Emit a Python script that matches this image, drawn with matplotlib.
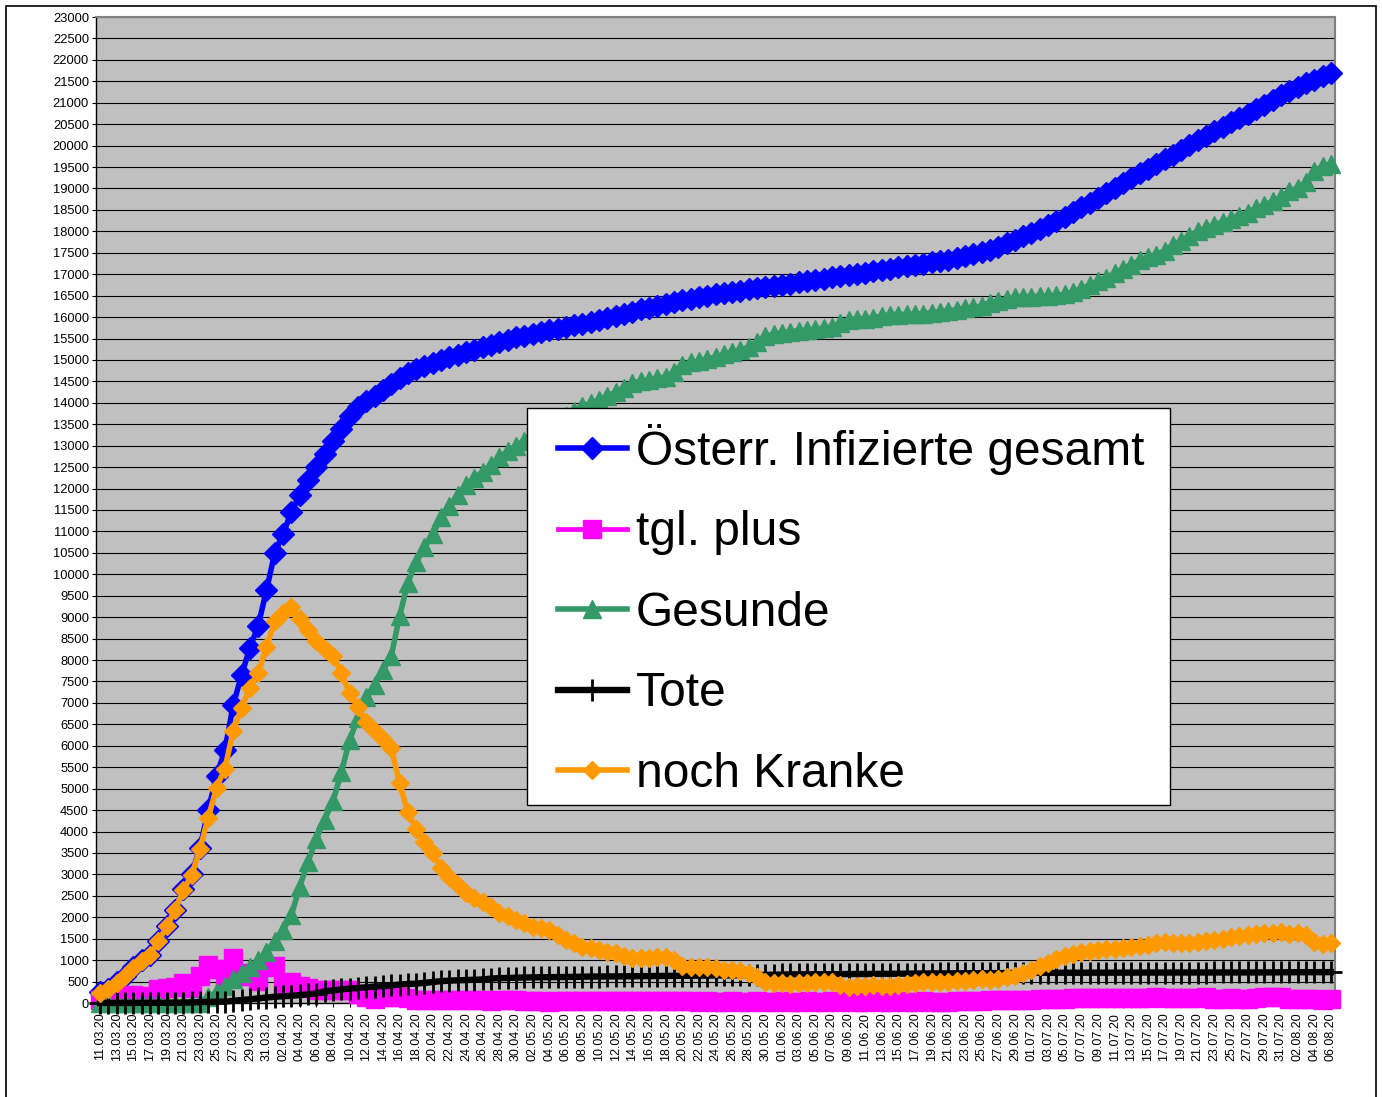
import numpy as np
import pandas as pd
import matplotlib
matplotlib.use("Agg")
import matplotlib.pyplot as plt
from matplotlib.patches import Rectangle

plt.rcParams['font.family'] = ['Liberation Sans', 'DejaVu Sans']

# Kategorien: Tage 11.03.20 - 06.08.20
tage = [d.strftime("%d.%m.%y") for d in pd.date_range("2020-03-11", "2020-08-06", freq="D")]

gesamt = [246, 330, 480, 640, 830, 1000, 1130, 1450, 1800, 2180,
          2650, 3000, 3620, 4500, 5300, 5900, 6950, 7650, 8280, 8800,
          9630, 10500, 10950, 11450, 11850, 12200, 12500, 12800, 13100, 13400,
          13700, 13900, 14050, 14150, 14300, 14450, 14580, 14700, 14780, 14850,
          14920, 14990, 15060, 15120, 15180, 15240, 15300, 15350, 15410, 15470,
          15530, 15570, 15610, 15650, 15690, 15730, 15770, 15810, 15850, 15890,
          15930, 15980, 16030, 16080, 16130, 16180, 16220, 16270, 16310, 16350,
          16390, 16430, 16460, 16500, 16530, 16560, 16590, 16620, 16650, 16680,
          16700, 16730, 16760, 16780, 16810, 16840, 16870, 16900, 16930, 16960,
          16990, 17010, 17040, 17070, 17100, 17130, 17160, 17190, 17220, 17250,
          17280, 17310, 17340, 17380, 17420, 17460, 17510, 17570, 17640, 17720,
          17800, 17880, 17960, 18050, 18140, 18240, 18340, 18450, 18560, 18670,
          18780, 18890, 19000, 19120, 19240, 19350, 19460, 19570, 19680, 19790,
          19900, 20010, 20130, 20230, 20330, 20430, 20540, 20640, 20740, 20850,
          20950, 21060, 21170, 21270, 21360, 21450, 21540, 21620, 21700]

tgl_plus = [64, 84, 150, 160, 190, 170, 130, 320, 350, 380,
            470, 350, 620, 880, 800, 600, 1050, 700, 630, 520,
            830, 870, 450, 500, 400, 350, 300, 300, 300, 300,
            300, 200, 150, 100, 150, 150, 130, 120, 80, 70,
            70, 70, 70, 60, 60, 60, 60, 50, 60, 60,
            60, 40, 40, 40, 30, 45, 40, 35, 45, 40,
            40, 55, 50, 45, 55, 50, 35, 55, 40, 45,
            40, 40, 30, 45, 30, 25, 35, 30, 30, 35,
            20, 30, 35, 20, 30, 35, 25, 30, 35, 25,
            35, 20, 30, 35, 25, 30, 35, 30, 25, 35,
            30, 30, 25, 40, 40, 45, 50, 60, 70, 80,
            80, 80, 80, 90, 90, 100, 100, 110, 110, 110,
            110, 110, 110, 120, 120, 110, 110, 140, 110, 110,
            110, 110, 120, 150, 100, 100, 110, 100, 100, 110,
            150, 140, 150, 100, 90, 90, 90, 80, 100]

gesunde = [4, 6, 6, 6, 6, 6, 7, 9, 9, 9,
           9, 9, 9, 150, 250, 400, 550, 700, 850, 1000,
           1200, 1450, 1700, 2050, 2714, 3296, 3830, 4277, 4705, 5381,
           6133, 6650, 7132, 7416, 7757, 8090, 9019, 9807, 10278, 10630,
           10929, 11330, 11598, 11840, 12074, 12248, 12391, 12551, 12730, 12866,
           13001, 13114, 13232, 13312, 13390, 13544, 13692, 13811, 13926, 13995,
           14072, 14160, 14247, 14356, 14454, 14512, 14532, 14571, 14608, 14717,
           14885, 14951, 14970, 15029, 15067, 15137, 15185, 15233, 15302, 15429,
           15555, 15600, 15635, 15662, 15682, 15701, 15720, 15739, 15768, 15868,
           15942, 15945, 15963, 15983, 16020, 16059, 16060, 16062, 16066, 16082,
           16102, 16130, 16149, 16168, 16207, 16227, 16256, 16335, 16385, 16423,
           16460, 16477, 16480, 16486, 16495, 16504, 16534, 16594, 16664, 16744,
           16833, 16922, 17022, 17121, 17220, 17320, 17400, 17459, 17549, 17679,
           17779, 17899, 17999, 18079, 18148, 18218, 18287, 18367, 18437, 18537,
           18607, 18705, 18794, 18933, 19012, 19141, 19401, 19521, 19580]

tote = [1, 1, 1, 1, 1, 3, 3, 4, 6, 6,
        8, 16, 21, 25, 28, 31, 52, 68, 86, 108,
        128, 146, 158, 168, 186, 204, 220, 273, 295, 319,
        337, 350, 368, 384, 393, 410, 431, 443, 452, 470,
        491, 510, 522, 530, 536, 542, 549, 569, 580, 584,
        589, 596, 598, 598, 600, 606, 608, 609, 614, 615,
        618, 620, 623, 624, 626, 628, 628, 629, 632, 633,
        635, 639, 640, 641, 643, 643, 645, 647, 648, 651,
        655, 660, 665, 668, 668, 669, 670, 671, 672, 672,
        673, 675, 677, 677, 680, 681, 683, 686, 687, 688,
        688, 690, 691, 692, 693, 693, 694, 695, 695, 697,
        700, 703, 703, 704, 705, 706, 706, 706, 706, 706,
        707, 708, 708, 709, 710, 710, 710, 711, 711, 711,
        711, 711, 711, 711, 712, 712, 713, 713, 713, 713,
        713, 715, 716, 717, 718, 719, 719, 719, 720]

kranke = [241, 323, 473, 633, 823, 991, 1120, 1437, 1785, 2165,
          2633, 2975, 3590, 4325, 5022, 5469, 6348, 6882, 7344, 7692,
          8302, 8904, 9092, 9232, 8950, 8700, 8450, 8250, 8100, 7700,
          7230, 6900, 6550, 6350, 6150, 5950, 5130, 4450, 4050, 3750,
          3500, 3150, 2940, 2750, 2570, 2450, 2360, 2230, 2100, 2020,
          1940, 1860, 1780, 1740, 1700, 1580, 1470, 1390, 1310, 1280,
          1240, 1200, 1160, 1100, 1050, 1040, 1060, 1070, 1070, 1000,
          870, 840, 850, 830, 820, 780, 760, 740, 700, 600,
          490, 470, 460, 450, 460, 470, 480, 490, 490, 420,
          375, 390, 400, 410, 400, 390, 420, 450, 470, 480,
          490, 490, 500, 520, 520, 540, 560, 540, 560, 600,
          640, 700, 780, 860, 940, 1030, 1100, 1150, 1190, 1220,
          1240, 1260, 1270, 1290, 1310, 1320, 1350, 1400, 1420, 1400,
          1410, 1400, 1420, 1440, 1470, 1500, 1540, 1560, 1590, 1600,
          1630, 1640, 1660, 1620, 1630, 1590, 1420, 1380, 1400]

W, H = 1382, 1097
fig = plt.figure(figsize=(W / 100, H / 100), dpi=100)
ax = fig.add_axes([96 / W, 1 - 1003 / H, (1335 - 96) / W, (1003 - 17) / H])
ax.set_facecolor('#c0c0c0')

x = np.arange(len(tage))
reihen = [
    (gesamt, 'Österr. Infizierte gesamt', '#0000ff', 'D', 11.5, 4.0, 1.0),
    (tgl_plus, 'tgl. plus', '#ff00ff', 's', 12.5, 3.4, 1.0),
    (gesunde, 'Gesunde', '#339966', '^', 13, 4.0, 1.0),
    (tote, 'Tote', '#000000', '+', 16, 4.6, 2.0),
    (kranke, 'noch Kranke', '#ff9900', 'D', 9, 4.0, 1.0),
]
for werte, name, farbe, mk, ms, lw, mew in reihen:
    ax.plot(x, werte, color=farbe, lw=lw, marker=mk, ms=ms, mfc=farbe, mec=farbe,
            mew=mew, label=name, clip_on=False, zorder=3)

ax.set_xlim(-0.5, len(tage) - 0.5)
ax.set_ylim(0, 23000)
ax.set_yticks(np.arange(0, 23001, 500))
ax.yaxis.grid(True, color='black', lw=0.8)
ax.set_axisbelow(True)
ax.set_xticks(x[::2])
ax.set_xticklabels(tage[::2], rotation=90, fontsize=9)
ax.tick_params(axis='y', labelsize=9.3, length=3, pad=2)
ax.tick_params(axis='x', length=3, pad=4)
for s in ['top', 'right']:
    ax.spines[s].set_color('#808080')
    ax.spines[s].set_linewidth(1.5)
for s in ['left', 'bottom']:
    ax.spines[s].set_color('black')
    ax.spines[s].set_linewidth(1.0)

# Legendenkasten
fig.add_artist(Rectangle((527 / W, 1 - 805 / H), (1170 - 527) / W, (805 - 408) / H,
                         transform=fig.transFigure, facecolor='white',
                         edgecolor='black', lw=1.0, zorder=4))
fig.legend(loc='upper left', bbox_to_anchor=(558 / W, 1 - 424 / H),
           bbox_transform=fig.transFigure, fontsize=34.5, frameon=False,
           borderpad=0, borderaxespad=0, handlelength=1.43, handletextpad=0.2,
           labelspacing=0.74)

# äußerer Rahmen
fig.add_artist(Rectangle((6 / W, -0.01), (1376 - 6) / W, 1 - 6 / H + 0.01,
                         transform=fig.transFigure, fill=False,
                         edgecolor='black', lw=1.2))

fig.savefig('out.png', dpi=100)
